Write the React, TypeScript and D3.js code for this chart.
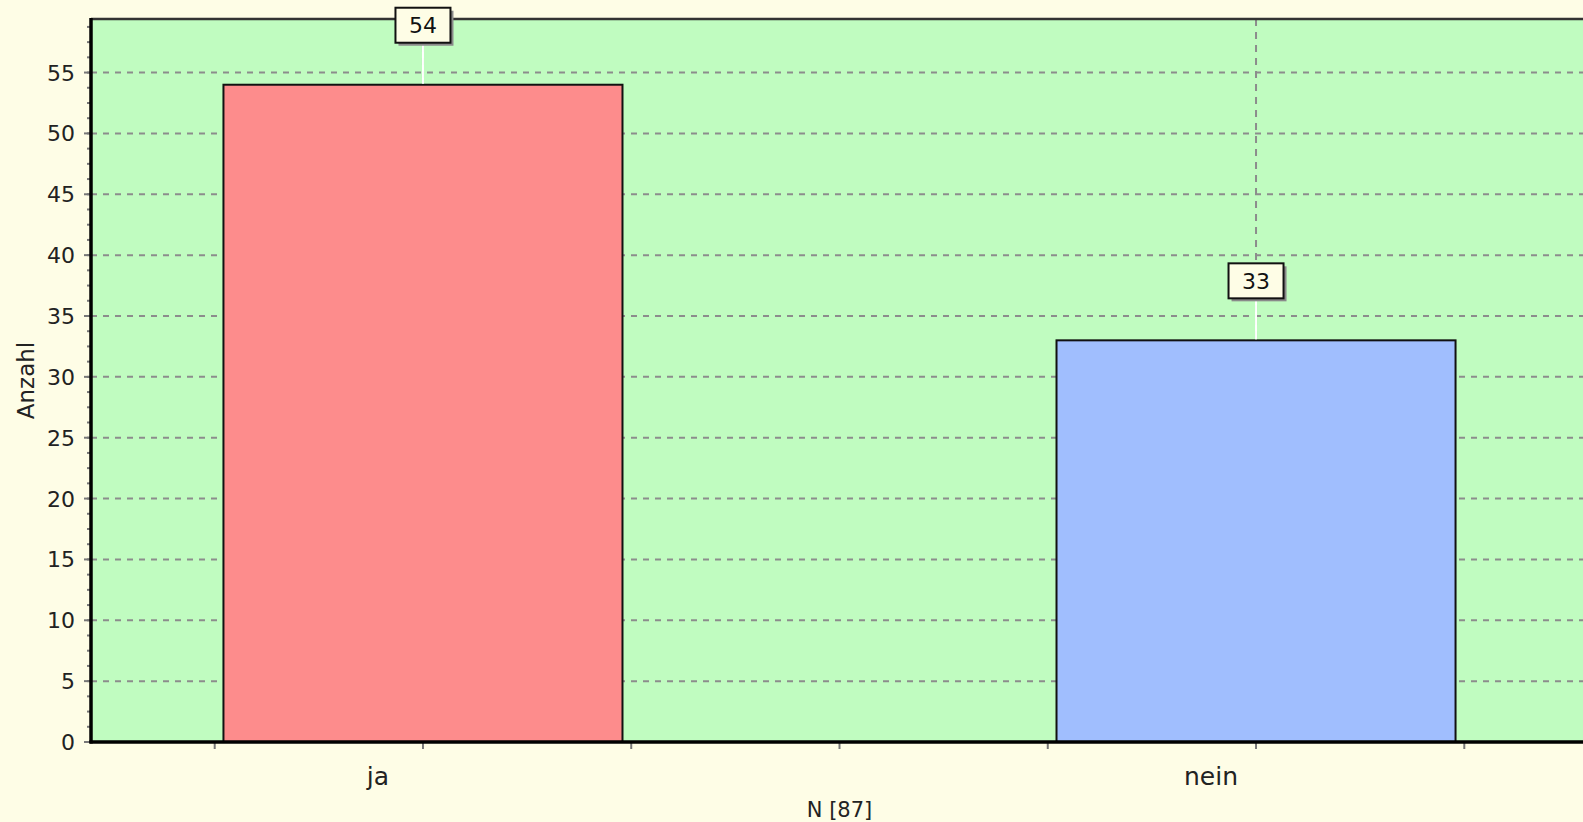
import React, { useRef, useEffect } from 'react';
import * as d3 from 'd3';

// chart values
const categories = ['ja', 'nein'];
const counts = [54, 33];
const barColors = ['#FD8C8C', '#A0BEFE'];
const yTicks = [0, 5, 10, 15, 20, 25, 30, 35, 40, 45, 50, 55];
const yLabel = 'Anzahl';
const xLabel = 'N [87]';

const W = 1583;
const H = 822;

const App = () => {
  const ref = useRef<SVGSVGElement>(null);

  useEffect(() => {
    const svg = d3.select(ref.current);
    svg.selectAll('*').remove();

    const left = 91, right = 1588, top = 19, bottom = 742;
    const font = '"DejaVu Sans", sans-serif';

    // background
    svg.append('rect').attr('width', W).attr('height', H).attr('fill', '#FEFDE6');

    const x = d3.scaleBand().domain(categories).range([left, right])
      .paddingInner(0.521).paddingOuter(0.159);
    const y = d3.scaleLinear().domain([0, d3.max(counts)! * 1.1]).range([bottom, top]);

    // plot area
    svg.append('rect')
      .attr('x', left).attr('y', top)
      .attr('width', right - left).attr('height', bottom - top)
      .attr('fill', '#C0FCC0');

    // horizontal grid
    yTicks.filter(t => t > 0).forEach(t => {
      svg.append('line')
        .attr('x1', left).attr('x2', right)
        .attr('y1', y(t)).attr('y2', y(t))
        .attr('stroke', '#8C8C8C').attr('stroke-width', 2)
        .attr('stroke-dasharray', '6,6');
    });

    // vertical grid at category centres
    categories.forEach(c => {
      const cx = x(c)! + x.bandwidth() / 2;
      svg.append('line')
        .attr('x1', cx).attr('x2', cx)
        .attr('y1', top).attr('y2', bottom)
        .attr('stroke', '#8C8C8C').attr('stroke-width', 2)
        .attr('stroke-dasharray', '7,6');
    });

    // bars
    categories.forEach((c, i) => {
      svg.append('rect')
        .attr('x', x(c)!).attr('y', y(counts[i]))
        .attr('width', x.bandwidth()).attr('height', bottom - y(counts[i]))
        .attr('fill', barColors[i])
        .attr('stroke', '#111').attr('stroke-width', 2);
    });

    // top border
    svg.append('line')
      .attr('x1', left).attr('x2', right).attr('y1', top).attr('y2', top)
      .attr('stroke', '#333').attr('stroke-width', 2.5);

    // value labels
    categories.forEach((c, i) => {
      const cx = x(c)! + x.bandwidth() / 2;
      const by = y(counts[i]);
      const boxB = by - 42;
      const bw = 55, bh = 35;
      svg.append('line')
        .attr('x1', cx).attr('x2', cx).attr('y1', boxB).attr('y2', by - 1)
        .attr('stroke', '#fff').attr('stroke-width', 2);
      svg.append('rect')
        .attr('x', cx - bw / 2 + 3).attr('y', boxB - bh + 3)
        .attr('width', bw).attr('height', bh)
        .attr('fill', '#8a8a8a');
      svg.append('rect')
        .attr('x', cx - bw / 2).attr('y', boxB - bh)
        .attr('width', bw).attr('height', bh)
        .attr('fill', '#FEFDE6').attr('stroke', '#111').attr('stroke-width', 2);
      svg.append('text')
        .attr('x', cx).attr('y', boxB - bh / 2 + 8)
        .attr('text-anchor', 'middle')
        .attr('font-family', font).attr('font-size', 22)
        .attr('fill', '#111')
        .text(String(counts[i]));
    });

    // y axis minor ticks
    const yMax = y.domain()[1];
    d3.range(0, yMax, 1.25).forEach(t => {
      svg.append('line')
        .attr('x1', left - 4).attr('x2', left)
        .attr('y1', y(t)).attr('y2', y(t))
        .attr('stroke', '#777').attr('stroke-width', 2);
    });
    // y axis major ticks + labels
    yTicks.forEach(t => {
      svg.append('line')
        .attr('x1', left - 7).attr('x2', left)
        .attr('y1', y(t)).attr('y2', y(t))
        .attr('stroke', '#777').attr('stroke-width', 2);
      svg.append('text')
        .attr('x', left - 16).attr('y', y(t) + 8)
        .attr('text-anchor', 'end')
        .attr('font-family', font).attr('font-size', 22)
        .attr('fill', '#222')
        .text(String(t));
    });

    // x axis ticks every quarter step from first centre
    const step = x.step();
    const c0 = x(categories[0])! + x.bandwidth() / 2;
    d3.range(-1, 6).forEach(k => {
      const tx = c0 + k * step / 4;
      svg.append('line')
        .attr('x1', tx).attr('x2', tx)
        .attr('y1', bottom).attr('y2', bottom + 7)
        .attr('stroke', '#777').attr('stroke-width', 2);
    });

    // axis lines
    svg.append('line')
      .attr('x1', left).attr('x2', left).attr('y1', top - 1).attr('y2', bottom + 1.5)
      .attr('stroke', '#000').attr('stroke-width', 3.5);
    svg.append('line')
      .attr('x1', left - 1.5).attr('x2', right).attr('y1', bottom).attr('y2', bottom)
      .attr('stroke', '#000').attr('stroke-width', 3.5);

    // category labels
    categories.forEach(c => {
      svg.append('text')
        .attr('x', x(c)! + x.bandwidth() / 2 - 45).attr('y', bottom + 43)
        .attr('text-anchor', 'middle')
        .attr('font-family', font).attr('font-size', 25)
        .attr('fill', '#222')
        .text(c);
    });

    // axis labels
    svg.append('text')
      .attr('x', (left + right) / 2).attr('y', bottom + 75)
      .attr('text-anchor', 'middle')
      .attr('font-family', font).attr('font-size', 21)
      .attr('fill', '#222')
      .text(xLabel);

    svg.append('text')
      .attr('transform', `translate(34,${(top + bottom) / 2}) rotate(-90)`)
      .attr('text-anchor', 'middle')
      .attr('font-family', font).attr('font-size', 23)
      .attr('fill', '#222')
      .text(yLabel);
  }, []);

  return (
    <svg ref={ref} width={W} height={H}
      style={{ position: 'absolute', left: 0, top: 0, display: 'block' }} />
  );
};

export default App;
